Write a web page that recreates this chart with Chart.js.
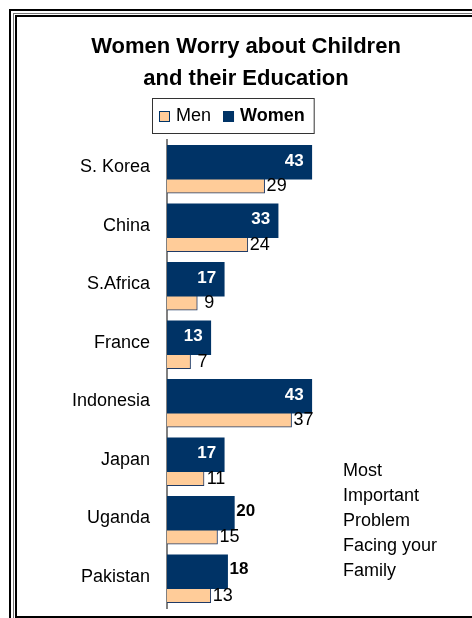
<!DOCTYPE html>
<html>
<head>
<meta charset="utf-8">
<script src="https://cdn.jsdelivr.net/npm/chart.js@4.4.1/dist/chart.umd.min.js"></script>
<style>
    html, body { margin: 0; padding: 0; background: #fff; }
    #wrap { position: relative; width: 472px; height: 618px; overflow: hidden; background: #fff; }
    #chart { position: absolute; left: 0; top: 0; }
    .rule { position: absolute; box-sizing: border-box; pointer-events: none; }
</style>
</head>
<body>
<div id="wrap">
    <canvas id="chart" width="472" height="618"></canvas>
    <!-- double frame round the chart -->
    <div class="rule" style="left:9px;top:9px;width:600px;height:700px;border-top:2px solid #000;border-left:2px solid #000;"></div>
    <div class="rule" style="left:13px;top:13px;width:600px;height:700px;border-top:1px solid #777;border-left:1px solid #777;"></div>
    <div class="rule" style="left:15px;top:15px;width:600px;height:603px;border:2px solid #000;"></div>
</div>
<script>
const countries = ['S. Korea', 'China', 'S.Africa', 'France', 'Indonesia', 'Japan', 'Uganda', 'Pakistan'];
const women = [43, 33, 17, 13, 43, 17, 20, 18];
const men = [29, 24, 9, 7, 37, 11, 15, 13];
// these women's values are printed past the bar end instead of inside it
const labelOutside = ['Uganda', 'Pakistan'];
const noteLines = ['Most', 'Important', 'Problem', 'Facing your', 'Family'];

const NAVY = '#003366';
const PEACH = '#FFCC99';
const FONT = "'Liberation Sans', Arial, sans-serif";

Chart.defaults.font.family = FONT;
Chart.defaults.color = '#000';

// women bar sits in the upper part of a row, the men bar overlaps it from below
const SHIFT = 0.12;
function rows(values, shift) {
    return values.map((v, i) => ({ x: v, y: i + shift }));
}

// legend in a thin box, men first, women in bold
const boxedLegend = {
    id: 'boxedLegend',
    afterDraw(chart) {
        const ctx = chart.ctx;
        const items = [chart.data.datasets[1], chart.data.datasets[0]];
        const left = 152, top = 98.5, h = 35;
        const cy = top + h / 2;
        let cursor = left + 7;
        ctx.save();
        ctx.textBaseline = 'middle';
        ctx.textAlign = 'left';
        items.forEach((ds, k) => {
            ctx.fillStyle = ds.backgroundColor;
            ctx.fillRect(cursor, cy - 5, 11, 11);
            ctx.strokeStyle = NAVY;
            ctx.lineWidth = 1;
            ctx.strokeRect(cursor + 0.5, cy - 4.5, 10, 10);
            cursor += 17;
            ctx.font = (k === 1 ? 'bold ' : '') + '18px ' + FONT;
            ctx.fillStyle = '#000';
            ctx.fillText(ds.label, cursor, cy);
            cursor += ctx.measureText(ds.label).width;
            if (k === 0) cursor += 12;
        });
        ctx.strokeStyle = '#333';
        ctx.strokeRect(left + 0.5, top, cursor + 9 - left, h);
        ctx.restore();
    }
};

// numbers at the ends of the bars
const valueLabels = {
    id: 'valueLabels',
    afterDatasetsDraw(chart) {
        const ctx = chart.ctx;
        ctx.save();
        ctx.textBaseline = 'middle';
        ctx.font = 'bold 17px ' + FONT;
        chart.getDatasetMeta(0).data.forEach((bar, i) => {
            if (labelOutside.includes(countries[i])) {
                ctx.fillStyle = '#000';
                ctx.textAlign = 'left';
                ctx.fillText(women[i], bar.x + 2, bar.y - 2);
            } else {
                ctx.fillStyle = '#fff';
                ctx.textAlign = 'right';
                ctx.fillText(women[i], bar.x - 8, bar.y - 1);
            }
        });
        ctx.font = '18px ' + FONT;
        ctx.fillStyle = '#000';
        ctx.textAlign = 'center';
        chart.getDatasetMeta(1).data.forEach((bar, i) => {
            ctx.fillText(men[i], bar.x + 12, bar.y + 10);
        });
        ctx.restore();
    }
};

const sideNote = {
    id: 'sideNote',
    afterDraw(chart) {
        const ctx = chart.ctx;
        ctx.save();
        ctx.font = '18px ' + FONT;
        ctx.fillStyle = '#000';
        ctx.textAlign = 'left';
        ctx.textBaseline = 'alphabetic';
        noteLines.forEach((line, k) => ctx.fillText(line, 343, 476 + k * 25));
        ctx.restore();
    }
};

new Chart(document.getElementById('chart'), {
    type: 'bar',
    data: {
        datasets: [
            {
                label: 'Women',
                data: rows(women, -SHIFT),
                backgroundColor: NAVY,
                borderWidth: 0,
                grouped: false,
                barThickness: 34
            },
            {
                label: 'Men',
                data: rows(men, SHIFT),
                backgroundColor: PEACH,
                borderColor: '#1F3A66',
                borderWidth: 1,
                grouped: false,
                barThickness: 34
            }
        ]
    },
    options: {
        indexAxis: 'y',
        responsive: false,
        animation: false,
        events: [],
        layout: { padding: { left: 22, right: 2, top: 0, bottom: 10 } },
        scales: {
            x: { type: 'linear', min: 0, max: 90, display: false },
            y: {
                type: 'linear',
                offset: false,
                reverse: true,
                min: -0.5,
                max: 7.5,
                grid: { display: false, drawTicks: false },
                border: { color: '#808080', width: 2 },
                afterBuildTicks: scale => {
                    scale.ticks = countries.map((c, i) => ({ value: i }));
                },
                afterFit: scale => {
                    // labels sit inside the rows, so no extra room above or below
                    scale.width = 145;
                    scale.paddingTop = 0;
                    scale.paddingBottom = 0;
                },
                ticks: {
                    autoSkip: false,
                    padding: 17,
                    labelOffset: -2,
                    color: '#000',
                    font: { size: 18 },
                    callback: v => countries[v]
                }
            }
        },
        plugins: {
            legend: { display: false },
            tooltip: { enabled: false },
            title: {
                display: true,
                text: ['Women Worry about Children', 'and their Education'],
                color: '#000',
                font: { size: 22, weight: 'bold', lineHeight: '32px' },
                padding: { top: 31, bottom: 45 }
            }
        }
    },
    plugins: [boxedLegend, valueLabels, sideNote]
});
</script>
</body>
</html>
